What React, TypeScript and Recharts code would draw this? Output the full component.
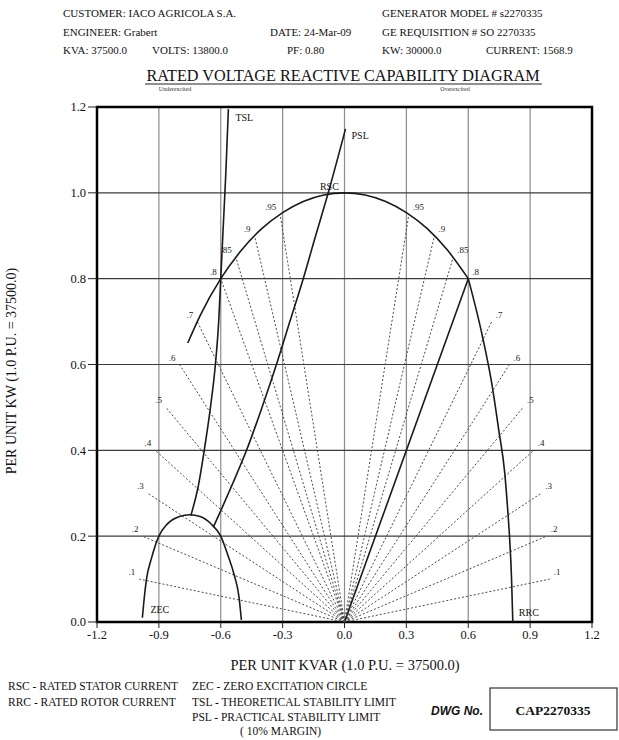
import React from "react"
import {
    ComposedChart,
    Line,
    Scatter,
    XAxis,
    YAxis,
    CartesianGrid,
    ReferenceArea,
    ReferenceDot
} from "recharts"

const SERIF = '"Liberation Serif", "Times New Roman", serif'
const SANS = '"Liberation Sans", Arial, sans-serif'

const KVAR_TICKS = [-1.2, -0.9, -0.6, -0.3, 0, 0.3, 0.6, 0.9, 1.2]
const KW_TICKS = [0, 0.2, 0.4, 0.6, 0.8, 1.0, 1.2]

// power factor rays, each running out to 1.0 p.u.
const pfValues = [0.1, 0.2, 0.3, 0.4, 0.5, 0.6, 0.7, 0.8, 0.85, 0.9, 0.95]
const pfLabels = ['.1', '.2', '.3', '.4', '.5', '.6', '.7', '.8', '.85', '.9', '.95']
const pfKvar = [0.995, 0.98, 0.954, 0.917, 0.866, 0.8, 0.714, 0.6, 0.527, 0.436, 0.312]

// RSC - rated stator current
const rscKvar = [-0.76, -0.7, -0.6, -0.5, -0.4, -0.3, -0.2, -0.1, 0, 0.1, 0.2, 0.3, 0.4, 0.5, 0.6]
const rscKw = [0.65, 0.714, 0.8, 0.866, 0.917, 0.954, 0.98, 0.995, 1.0, 0.995, 0.98, 0.954, 0.917, 0.866, 0.8]

// RRC - rated rotor current
const rrcKvar = [0.6, 0.67, 0.714, 0.748, 0.777, 0.79, 0.8, 0.81, 0.816]
const rrcKw = [0.8, 0.663, 0.556, 0.447, 0.347, 0.27, 0.2, 0.1, 0.0]

// ZEC - zero excitation circle
const zecKvar = [-0.98, -0.97, -0.96, -0.935, -0.9, -0.86, -0.8, -0.75, -0.7, -0.65, -0.6, -0.565, -0.535, -0.512, -0.5]
const zecKw = [0.01, 0.06, 0.1, 0.15, 0.2, 0.228, 0.246, 0.25, 0.246, 0.23, 0.2, 0.155, 0.11, 0.06, 0.005]

// TSL - theoretical stability limit
const tslKvar = [-0.745, -0.71, -0.68, -0.65, -0.626, -0.61, -0.6, -0.585, -0.575, -0.563]
const tslKw = [0.248, 0.314, 0.4, 0.5, 0.6, 0.7, 0.8, 0.95, 1.05, 1.195]

// PSL - practical stability limit (10% margin)
const pslKvar = [-0.636, -0.59, -0.54, -0.475, -0.4, -0.33, -0.265, -0.2, -0.14, -0.083, 0.005]
const pslKw = [0.221, 0.27, 0.325, 0.4, 0.5, 0.6, 0.7, 0.8, 0.9, 0.993, 1.149]

const toPts = (q: number[], p: number[]) => q.map((v, i) => ({ q: v, p: p[i] }))

const rsc = toPts(rscKvar, rscKw)
const rrc = toPts(rrcKvar, rrcKw)
const zec = toPts(zecKvar, zecKw)
const tsl = toPts(tslKvar, tslKw)
const psl = toPts(pslKvar, pslKw)

const RATED = pfValues.indexOf(0.8)

const rays: { key: string, pts: { q: number, p: number }[], solid: boolean }[] = []
const rayTags: { q: number, p: number, text: string, side: number }[] = []
;[-1, 1].forEach((side) => {
    pfValues.forEach((pf, i) => {
        const end = { q: side * pfKvar[i], p: pf }
        rays.push({ key: `ray-${side}-${i}`, pts: [{ q: 0, p: 0 }, end], solid: side > 0 && i === RATED })
        rayTags.push({ ...end, text: pfLabels[i], side })
    })
})

const RayTag = (props: any) => {
    const { cx, cy, payload } = props
    const left = payload.side < 0
    return (
        <text
            x={left ? cx - 4 : cx + 4}
            y={cy - 4}
            textAnchor={left ? "end" : "start"}
            fontSize={9}
            fontFamily={SERIF}
            fill="#222"
        >
            {payload.text}
        </text>
    )
}

const tag = (text: string, dx: number, dy: number, anchor = "start") => (props: any) => (
    <text x={props.cx + dx} y={props.cy + dy} textAnchor={anchor} fontSize={10} fontFamily={SERIF} fill="#111">
        {text}
    </text>
)

const curveProps = {
    dataKey: "p",
    type: "monotone" as const,
    stroke: "#1a1a1a",
    strokeWidth: 1.6,
    dot: false,
    activeDot: false,
    isAnimationActive: false
}

const tickStyle = { fontSize: 12.5, fill: "#111", fontFamily: SERIF }
const fmt = (v: number) => v.toFixed(1)

export default function App() {
    const tslEnd = tsl[tsl.length - 1]
    const pslEnd = psl[psl.length - 1]
    const pslAtRsc = psl[psl.length - 2]

    return (
        <div style={{ position: "absolute", left: 0, top: 0, width: 619, height: 740, background: "#fff", fontFamily: SERIF }}>
            <ComposedChart width={619} height={740} margin={{ top: 107, right: 27, bottom: 88, left: 57 }}>
                <CartesianGrid horizontal={false} stroke="#8c8c8c" strokeWidth={1.2} />
                <CartesianGrid vertical={false} stroke="#3c3c3c" strokeWidth={1.2} />
                <XAxis
                    type="number"
                    dataKey="q"
                    domain={[-1.2, 1.2]}
                    ticks={KVAR_TICKS}
                    interval={0}
                    allowDataOverflow
                    axisLine={false}
                    tickLine={{ stroke: "#222" }}
                    tickSize={6}
                    tick={tickStyle}
                    tickFormatter={fmt}
                    height={30}
                />
                <YAxis
                    type="number"
                    dataKey="p"
                    domain={[0, 1.2]}
                    ticks={KW_TICKS}
                    interval={0}
                    allowDataOverflow
                    axisLine={false}
                    tickLine={{ stroke: "#222" }}
                    tickSize={9}
                    tick={tickStyle}
                    tickFormatter={fmt}
                    width={40}
                />
                {rays.map((r) => (
                    <Line
                        key={r.key}
                        data={r.pts}
                        dataKey="p"
                        type="linear"
                        stroke={r.solid ? "#1a1a1a" : "#4a4a4a"}
                        strokeWidth={r.solid ? 1.6 : 1}
                        strokeDasharray={r.solid ? undefined : "2 2"}
                        dot={false}
                        activeDot={false}
                        isAnimationActive={false}
                    />
                ))}
                <Line data={rsc} {...curveProps} />
                <Line data={rrc} {...curveProps} />
                <Line data={zec} {...curveProps} />
                <Line data={tsl} {...curveProps} />
                <Line data={psl} {...curveProps} />
                <Scatter data={rayTags} dataKey="p" shape={RayTag} isAnimationActive={false} />
                <ReferenceDot x={tslEnd.q} y={tslEnd.p} r={0} shape={tag("TSL", 7, 12)} />
                <ReferenceDot x={pslEnd.q} y={pslEnd.p} r={0} shape={tag("PSL", 6, 10)} />
                <ReferenceDot x={pslAtRsc.q} y={pslAtRsc.p} r={0} shape={tag("RSC", 2, -6, "middle")} />
                <ReferenceDot x={zecKvar[0]} y={zecKw[0]} r={0} shape={tag("ZEC", 8, -5)} />
                <ReferenceDot x={rrcKvar[rrcKvar.length - 1]} y={rrcKw[rrcKw.length - 1]} r={0} shape={tag("RRC", 6, -6)} />
                <ReferenceArea x1={-1.2} x2={1.2} y1={0} y2={1.2} fill="none" stroke="#000" strokeWidth={2.5} ifOverflow="visible" />
            </ComposedChart>

            <svg width={619} height={740} style={{ position: "absolute", left: 0, top: 0, pointerEvents: "none" }}>
                <g fontFamily={SERIF} fontSize={11} fill="#111">
                    <text x={63} y={17}>CUSTOMER: IACO AGRICOLA S.A.</text>
                    <text x={382} y={17}>GENERATOR  MODEL # s2270335</text>
                    <text x={63} y={36}>ENGINEER: Grabert</text>
                    <text x={270} y={36}>DATE: 24-Mar-09</text>
                    <text x={382} y={36}>GE REQUISITION # SO 2270335</text>
                    <text x={63} y={54}>KVA:  37500.0</text>
                    <text x={152} y={54}>VOLTS:  13800.0</text>
                    <text x={287} y={54}>PF: 0.80</text>
                    <text x={382} y={54}>KW:  30000.0</text>
                    <text x={486} y={54}>CURRENT:  1568.9</text>
                </g>
                <text x={343} y={81} textAnchor="middle" fontFamily={SERIF} fontSize={16.2} fill="#111">
                    RATED VOLTAGE REACTIVE CAPABILITY DIAGRAM
                </text>
                <line x1={145} x2={542} y1={84} y2={84} stroke="#222" strokeWidth={1.2} />
                <text x={175} y={91} textAnchor="middle" fontFamily={SERIF} fontSize={6} fill="#333">Underexcited</text>
                <text x={455} y={91} textAnchor="middle" fontFamily={SERIF} fontSize={6} fill="#333">Overexcited</text>

                <text
                    transform="translate(16, 371) rotate(-90)"
                    textAnchor="middle"
                    fontFamily={SERIF}
                    fontSize={14}
                    fill="#111"
                >
                    PER UNIT KW (1.0 P.U. = 37500.0)
                </text>
                <text x={345} y={670} textAnchor="middle" fontFamily={SERIF} fontSize={14.5} fill="#111">
                    PER UNIT KVAR (1.0 P.U. =  37500.0)
                </text>

                <g fontFamily={SERIF} fontSize={11.5} fill="#111">
                    <text x={8} y={690}>RSC - RATED STATOR CURRENT</text>
                    <text x={8} y={706}>RRC - RATED ROTOR CURRENT</text>
                    <text x={192} y={690}>ZEC - ZERO EXCITATION CIRCLE</text>
                    <text x={192} y={706}>TSL - THEORETICAL STABILITY LIMIT</text>
                    <text x={192} y={721}>PSL - PRACTICAL STABILITY LIMIT</text>
                    <text x={240} y={735}>( 10% MARGIN)</text>
                </g>
                <text x={457} y={715} textAnchor="middle" fontFamily={SANS} fontSize={12} fontWeight="bold" fontStyle="italic" fill="#111">
                    DWG No.
                </text>
                <rect x={490} y={688} width={127} height={42} fill="none" stroke="#333" strokeWidth={1.2} />
                <text x={553} y={715} textAnchor="middle" fontFamily={SERIF} fontSize={13.5} fontWeight="bold" fill="#111">
                    CAP2270335
                </text>
            </svg>
        </div>
    )
}
